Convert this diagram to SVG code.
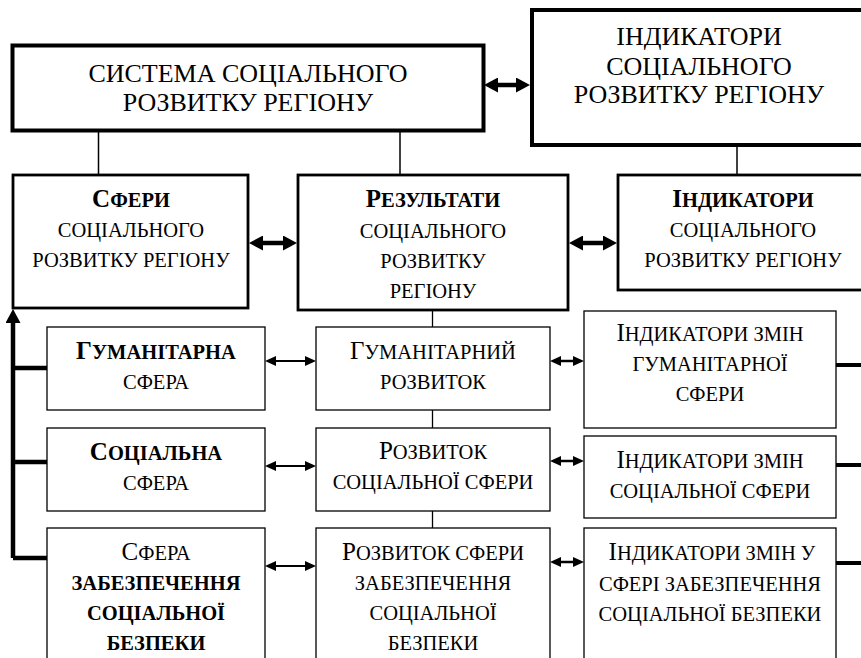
<svg xmlns="http://www.w3.org/2000/svg" width="861" height="658" viewBox="0 0 861 658">
<style>
.bx{fill:#fff;stroke:#000}
.b1{stroke-width:4}
.b2{stroke-width:2.8}
.b3{stroke-width:1.3}
.t{font-family:'Liberation Serif','Times New Roman',serif;text-anchor:middle;fill:#000}
.h{font-size:26px}
.s{font-size:20.5px}
.B{font-weight:bold}
.cap{font-size:25px}
.ln{stroke:#000;fill:none}
</style>
<defs>
<marker id="hb" markerUnits="userSpaceOnUse" markerWidth="14" markerHeight="15" viewBox="0 0 14 15" refX="3" refY="7.5" orient="auto-start-reverse"><path d="M0,0 L14,7.5 L0,15 z" fill="#000"/></marker>
<marker id="hs" markerUnits="userSpaceOnUse" markerWidth="11" markerHeight="10" viewBox="0 0 11 10" refX="2" refY="5" orient="auto-start-reverse"><path d="M0,0 L11,5 L0,10 z" fill="#000"/></marker>
</defs>
<rect width="861" height="658" fill="#fff"/>
<g id="connectors">
<line class="ln" x1="98.5" y1="131" x2="98.5" y2="175" stroke-width="1.5"/>
<line class="ln" x1="400" y1="131" x2="400" y2="175" stroke-width="1.5"/>
<line class="ln" x1="737" y1="145" x2="737" y2="175" stroke-width="1.5"/>
<line class="ln" x1="432.5" y1="310" x2="432.5" y2="327" stroke-width="1.3"/>
<line class="ln" x1="432.5" y1="410" x2="432.5" y2="428" stroke-width="1.3"/>
<line class="ln" x1="432.5" y1="511" x2="432.5" y2="528" stroke-width="1.3"/>
<line class="ln" x1="495" y1="85" x2="519" y2="85" stroke-width="4.5" marker-start="url(#hb)" marker-end="url(#hb)"/>
<line class="ln" x1="260" y1="243" x2="286" y2="243" stroke-width="4.5" marker-start="url(#hb)" marker-end="url(#hb)"/>
<line class="ln" x1="580" y1="243" x2="606" y2="243" stroke-width="4.5" marker-start="url(#hb)" marker-end="url(#hb)"/>
<line class="ln" x1="274" y1="361" x2="307" y2="361" stroke-width="2" marker-start="url(#hs)" marker-end="url(#hs)"/>
<line class="ln" x1="274" y1="466" x2="307" y2="466" stroke-width="2" marker-start="url(#hs)" marker-end="url(#hs)"/>
<line class="ln" x1="274" y1="566" x2="307" y2="566" stroke-width="2" marker-start="url(#hs)" marker-end="url(#hs)"/>
<line class="ln" x1="559" y1="361" x2="575" y2="361" stroke-width="2.5" marker-start="url(#hs)" marker-end="url(#hs)"/>
<line class="ln" x1="559" y1="461" x2="575" y2="461" stroke-width="2.5" marker-start="url(#hs)" marker-end="url(#hs)"/>
<line class="ln" x1="559" y1="562" x2="575" y2="562" stroke-width="2.5" marker-start="url(#hs)" marker-end="url(#hs)"/>
<line class="ln" x1="13" y1="558" x2="13" y2="320" stroke-width="4.5" marker-end="url(#hb)"/>
<polyline class="ln" points="47,368 13,368" stroke-width="4.5"/>
<polyline class="ln" points="47,462 13,462" stroke-width="4.5"/>
<polyline class="ln" points="47,558 13,558" stroke-width="4.5"/>
<line class="ln" x1="836" y1="365" x2="866" y2="365" stroke-width="4" stroke-linecap="round"/>
<line class="ln" x1="836" y1="465" x2="866" y2="465" stroke-width="4" stroke-linecap="round"/>
<line class="ln" x1="836" y1="563" x2="866" y2="563" stroke-width="4" stroke-linecap="round"/>
</g>
<g id="system">
<rect class="bx b1" x="12.5" y="45.5" width="471" height="85"/>
<text class="t h" x="248" y="82">СИСТЕМА СОЦІАЛЬНОГО</text>
<text class="t h" x="248" y="111">РОЗВИТКУ РЕГІОНУ</text>
</g>
<g id="indicators-top">
<rect class="bx b1" x="532" y="10" width="334" height="135"/>
<text class="t h" x="699" y="45">ІНДИКАТОРИ</text>
<text class="t h" x="699" y="75">СОЦІАЛЬНОГО</text>
<text class="t h" x="699" y="103">РОЗВИТКУ РЕГІОНУ</text>
</g>
<g id="spheres">
<rect class="bx b2" x="13" y="175" width="235" height="133"/>
<text class="t s B" x="131" y="207"><tspan class="cap">С</tspan>ФЕРИ</text>
<text class="t s" x="131" y="237">СОЦІАЛЬНОГО</text>
<text class="t s" x="131" y="267">РОЗВИТКУ РЕГІОНУ</text>
</g>
<g id="results">
<rect class="bx b2" x="298" y="175" width="270" height="135"/>
<text class="t s B" x="433" y="207"><tspan class="cap">Р</tspan>ЕЗУЛЬТАТИ</text>
<text class="t s" x="433" y="238">СОЦІАЛЬНОГО</text>
<text class="t s" x="433" y="268">РОЗВИТКУ</text>
<text class="t s" x="433" y="298">РЕГІОНУ</text>
</g>
<g id="indicators">
<rect class="bx b2" x="618" y="175" width="250" height="115"/>
<text class="t s B" x="743" y="207"><tspan class="cap">І</tspan>НДИКАТОРИ</text>
<text class="t s" x="743" y="237">СОЦІАЛЬНОГО</text>
<text class="t s" x="743" y="267">РОЗВИТКУ РЕГІОНУ</text>
</g>
<g id="humanitarian-sphere">
<rect class="bx b3" x="47" y="327" width="218" height="83"/>
<text class="t s B" x="156" y="359"><tspan class="cap">Г</tspan>УМАНІТАРНА</text>
<text class="t s" x="156" y="389">СФЕРА</text>
</g>
<g id="humanitarian-development">
<rect class="bx b3" x="316" y="327" width="234" height="83"/>
<text class="t s" x="433" y="359"><tspan class="cap">Г</tspan>УМАНІТАРНИЙ</text>
<text class="t s" x="433" y="389">РОЗВИТОК</text>
</g>
<g id="humanitarian-indicators">
<rect class="bx b3" x="584" y="311" width="252" height="117"/>
<text class="t s" x="710" y="341"><tspan class="cap">І</tspan>НДИКАТОРИ ЗМІН</text>
<text class="t s" x="710" y="371">ГУМАНІТАРНОЇ</text>
<text class="t s" x="710" y="401">СФЕРИ</text>
</g>
<g id="social-sphere">
<rect class="bx b3" x="47" y="428" width="218" height="83"/>
<text class="t s B" x="156" y="460"><tspan class="cap">С</tspan>ОЦІАЛЬНА</text>
<text class="t s" x="156" y="490">СФЕРА</text>
</g>
<g id="social-development">
<rect class="bx b3" x="316" y="428" width="234" height="83"/>
<text class="t s" x="433" y="459"><tspan class="cap">Р</tspan>ОЗВИТОК</text>
<text class="t s" x="433" y="489">СОЦІАЛЬНОЇ СФЕРИ</text>
</g>
<g id="social-indicators">
<rect class="bx b3" x="584" y="436" width="252" height="82"/>
<text class="t s" x="710" y="468"><tspan class="cap">І</tspan>НДИКАТОРИ ЗМІН</text>
<text class="t s" x="710" y="498">СОЦІАЛЬНОЇ СФЕРИ</text>
</g>
<g id="security-sphere">
<rect class="bx b3" x="47" y="528" width="218" height="140"/>
<text class="t s" x="156" y="560"><tspan class="cap">С</tspan>ФЕРА</text>
<text class="t s B" x="156" y="590">ЗАБЕЗПЕЧЕННЯ</text>
<text class="t s B" x="156" y="620">СОЦІАЛЬНОЇ</text>
<text class="t s B" x="156" y="650">БЕЗПЕКИ</text>
</g>
<g id="security-development">
<rect class="bx b3" x="316" y="528" width="234" height="140"/>
<text class="t s" x="433" y="560"><tspan class="cap">Р</tspan>ОЗВИТОК СФЕРИ</text>
<text class="t s" x="433" y="590">ЗАБЕЗПЕЧЕННЯ</text>
<text class="t s" x="433" y="620">СОЦІАЛЬНОЇ</text>
<text class="t s" x="433" y="650">БЕЗПЕКИ</text>
</g>
<g id="security-indicators">
<rect class="bx b3" x="584" y="528" width="252" height="140"/>
<text class="t s" x="712" y="560"><tspan class="cap">І</tspan>НДИКАТОРИ ЗМІН У</text>
<text class="t s" x="710" y="591">СФЕРІ ЗАБЕЗПЕЧЕННЯ</text>
<text class="t s" x="710" y="621">СОЦІАЛЬНОЇ БЕЗПЕКИ</text>
</g>
</svg>
